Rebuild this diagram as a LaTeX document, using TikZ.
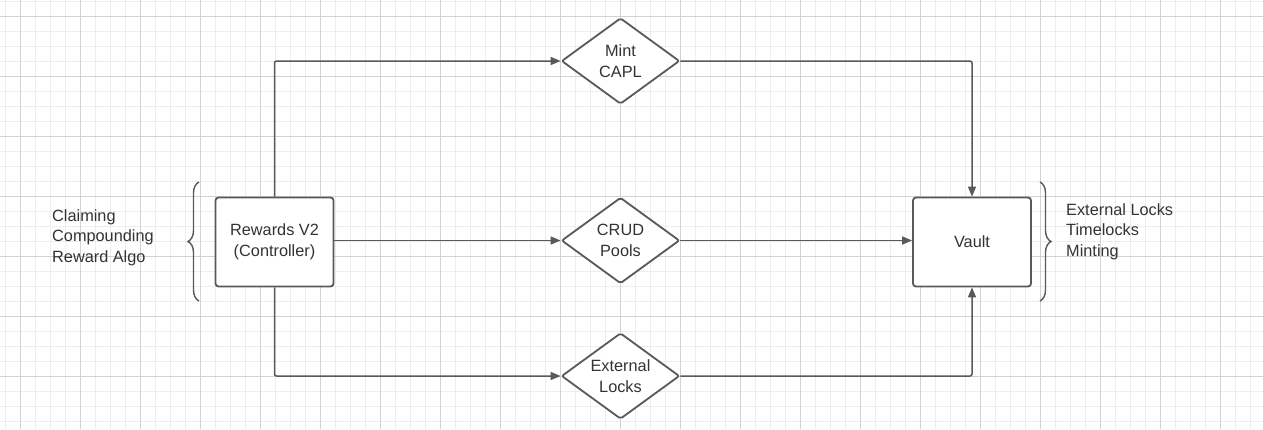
\documentclass[tikz,border=0pt]{standalone}
\usepackage{fontspec}
\setmainfont{Liberation Sans}
\usetikzlibrary{shapes.geometric,arrows.meta,decorations.pathreplacing}
\definecolor{ln}{HTML}{595959}
\definecolor{tx}{HTML}{333333}
\definecolor{gminor}{HTML}{EDEDED}
\definecolor{gmajor}{HTML}{D2D2D2}
\tikzset{
  box/.style={draw=ln, line width=1.8pt, rounded corners=3pt, minimum width=118pt, minimum height=89pt, align=center, text=tx, font=\fontsize{16.3}{20.5}\selectfont, fill=white},
  dia/.style={draw=ln, line width=1.8pt, diamond, aspect=1.37, minimum width=118pt, minimum height=86pt, inner sep=0pt, rounded corners=2pt, align=center, text=tx, font=\fontsize{16.3}{20.5}\selectfont, fill=white},
  conn/.style={draw=ln, line width=1.5pt, rounded corners=2pt, -{Triangle[length=10pt,width=8pt]}},
  lbl/.style={align=left, text=tx, font=\fontsize{16.3}{20.5}\selectfont, inner sep=0pt},
  brc/.style={draw=ln, line width=1.4pt, decorate, decoration={brace, amplitude=11pt}}
}
\begin{document}
\begin{tikzpicture}[x=1pt,y=-1pt]
\useasboundingbox (0,0) rectangle (1263,429);
\fill[white] (0,0) rectangle (1263,429);
\foreach \i in {0,...,84} {\draw[gminor, line width=0.8pt] ({5+15*\i},0) -- ({5+15*\i},429);}
\foreach \i in {0,...,28} {\draw[gminor, line width=0.8pt] (0,{1+15*\i}) -- (1263,{1+15*\i});}
\foreach \i in {0,...,20} {\draw[gmajor, line width=0.8pt] ({20+60*\i},0) -- ({20+60*\i},429);}
\foreach \i in {0,...,7} {\draw[gmajor, line width=0.8pt] (0,{16+60*\i}) -- (1263,{16+60*\i});}

\node[box] (rew) at (274.5,242) {Rewards V2\\(Controller)};
\node[box] (vault) at (972,242) {Vault};
\node[dia] (mint) at (620.5,61) {Mint\\CAPL};
\node[dia] (crud) at (620.5,240.5) {CRUD\\Pools};
\node[dia] (ext) at (620.5,376) {External\\Locks};

\path[conn] (rew.north) |- (mint.west);
\path[conn] (rew.east |- crud.west) -- (crud.west);
\path[conn] (rew.south) |- (ext.west);
\path[conn] (mint.east) -| (vault.north);
\path[conn] (crud.east) -- (vault.west |- crud.east);
\path[conn] (ext.east) -| (vault.south);

\coordinate (lb1) at (199,301);
\coordinate (lb2) at (199,182);
\draw[brc] (lb1) -- (lb2);
\coordinate (rb1) at (1040,182);
\coordinate (rb2) at (1040,301);
\draw[brc] (rb1) -- (rb2);

\node[lbl, anchor=north west] (ltxt) at (52,209) {Claiming\\Compounding\\Reward Algo};
\node[lbl, anchor=north west] (rtxt) at (1066,203) {External Locks\\Timelocks\\Minting};
\end{tikzpicture}
\end{document}
